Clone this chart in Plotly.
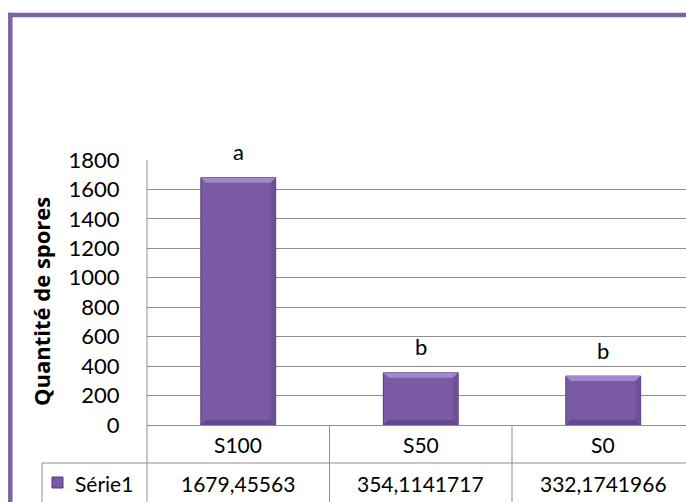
import plotly.graph_objects as go

# ---- data ----
categories = ["S100", "S50", "S0"]
values = [1679.45563, 354.1141717, 332.1741966]
letters = ["a", "b", "b"]
series_name = "Série1"
y_title = "Quantité de spores"
y_ticks = [0, 200, 400, 600, 800, 1000, 1200, 1400, 1600, 1800]

# ---- geometry (pixels) ----
W, H = 686, 502
L, R, T, B = 147, 0, 160, 77
PW, PH = W - L - R, H - T - B
CAT_W = 182.5
BAR_W = 0.41
YMAX = 1800

def px(x):
    return (x - L) / PW

def py(y):
    return (H - B - y) / PH

FONT = "Lato"
GRID = "#8f8f8f"
PURPLE = "#8064A2"
BAR = "#7A5BA3"

fig = go.Figure()
fig.add_trace(go.Bar(
    x=list(range(len(categories))), y=values, width=BAR_W,
    marker=dict(color=BAR, line=dict(color="#4E3878", width=1)),
    name=series_name, showlegend=False, hoverinfo="skip",
))

annotations = []
for i, (v, lt) in enumerate(zip(values, letters)):
    annotations.append(dict(x=i, y=v, xref="x", yref="y", text=lt, showarrow=False,
                            yshift=26, font=dict(family=FONT, size=22, color="#000")))
for i, c in enumerate(categories):
    annotations.append(dict(x=i, y=py(444), xref="x", yref="paper", text=c, showarrow=False,
                            yanchor="middle", font=dict(family=FONT, size=21, color="#000")))
    annotations.append(dict(x=i, y=py(483), xref="x", yref="paper",
                            text=str(values[i]).replace(".", ","), showarrow=False,
                            yanchor="middle", font=dict(family=FONT, size=21, color="#000")))
annotations.append(dict(x=px(73), y=py(483), xref="paper", yref="paper", text=series_name,
                        showarrow=False, xanchor="left", yanchor="middle",
                        font=dict(family=FONT, size=21, color="#000")))
annotations.append(dict(x=px(41), y=py(302), xref="paper", yref="paper", text="<b>" + y_title + "</b>",
                        showarrow=False, textangle=-90, xanchor="center", yanchor="middle",
                        font=dict(family="Open Sans", size=22, color="#000")))

shapes = [
    dict(type="line", xref="paper", yref="paper", x0=0, x1=0, y0=1, y1=py(H + 5),
         line=dict(color=GRID, width=1)),
    dict(type="line", xref="x", yref="paper", x0=0.5, x1=0.5, y0=0, y1=py(H + 5),
         line=dict(color=GRID, width=1)),
    dict(type="line", xref="x", yref="paper", x0=1.5, x1=1.5, y0=0, y1=py(H + 5),
         line=dict(color=GRID, width=1)),
    dict(type="line", xref="paper", yref="paper", x0=px(42), x1=1.02, y0=py(463), y1=py(463),
         line=dict(color=GRID, width=1)),
    dict(type="line", xref="paper", yref="paper", x0=px(42), x1=px(42), y0=py(463), y1=py(H + 5),
         line=dict(color=GRID, width=1)),
    dict(type="rect", xref="paper", yref="paper", x0=px(52), x1=px(63), y0=py(488), y1=py(477),
         fillcolor=BAR, line=dict(color="#4E3878", width=1)),
    dict(type="line", xref="paper", yref="paper", x0=px(10.3), x1=px(10.3), y0=py(12.8), y1=py(H + 10),
         line=dict(color=PURPLE, width=4.5)),
    dict(type="line", xref="paper", yref="paper", x0=px(8), x1=px(W + 10), y0=py(15), y1=py(15),
         line=dict(color=PURPLE, width=4.5)),
]

# bevel highlights on each bar (derived from the bar values)
dy = 5 * YMAX / PH
dx = 5 / CAT_W
for i, v in enumerate(values):
    x0, x1 = i - BAR_W / 2, i + BAR_W / 2
    shapes.append(dict(type="path", xref="x", yref="y", layer="above",
                       path=f"M {x0},{v} L {x1},{v} L {x1-dx},{v-dy} L {x0+dx},{v-dy} Z",
                       fillcolor="#A088CC", line=dict(width=0)))
    shapes.append(dict(type="path", xref="x", yref="y", layer="above",
                       path=f"M {x0},0 L {x1},0 L {x1-dx},{dy} L {x0+dx},{dy} Z",
                       fillcolor="#624890", line=dict(width=0)))
    shapes.append(dict(type="path", xref="x", yref="y", layer="above",
                       path=f"M {x1},0 L {x1},{v} L {x1-dx},{v-dy} L {x1-dx},{dy} Z",
                       fillcolor="#6D5098", line=dict(width=0)))

fig.update_layout(
    width=W, height=H, autosize=False,
    margin=dict(l=L, r=R, t=T, b=B, pad=0),
    paper_bgcolor="white", plot_bgcolor="white",
    xaxis=dict(range=[-0.5, -0.5 + PW / CAT_W], showticklabels=False, showgrid=False,
               zeroline=False, showline=False, fixedrange=True),
    yaxis=dict(range=[0, YMAX], tickvals=y_ticks, showgrid=True, gridcolor=GRID, gridwidth=1,
               zeroline=True, zerolinecolor=GRID, zerolinewidth=1, showline=False,
               ticks="outside", ticklen=22, tickcolor="rgba(0,0,0,0)",
               tickfont=dict(family=FONT, size=22, color="#000"), fixedrange=True),
    annotations=annotations, shapes=shapes,
)

fig.write_html("out.html", config={"displayModeBar": False},
               post_script="document.body.style.margin='0';document.body.style.overflow='hidden';")
